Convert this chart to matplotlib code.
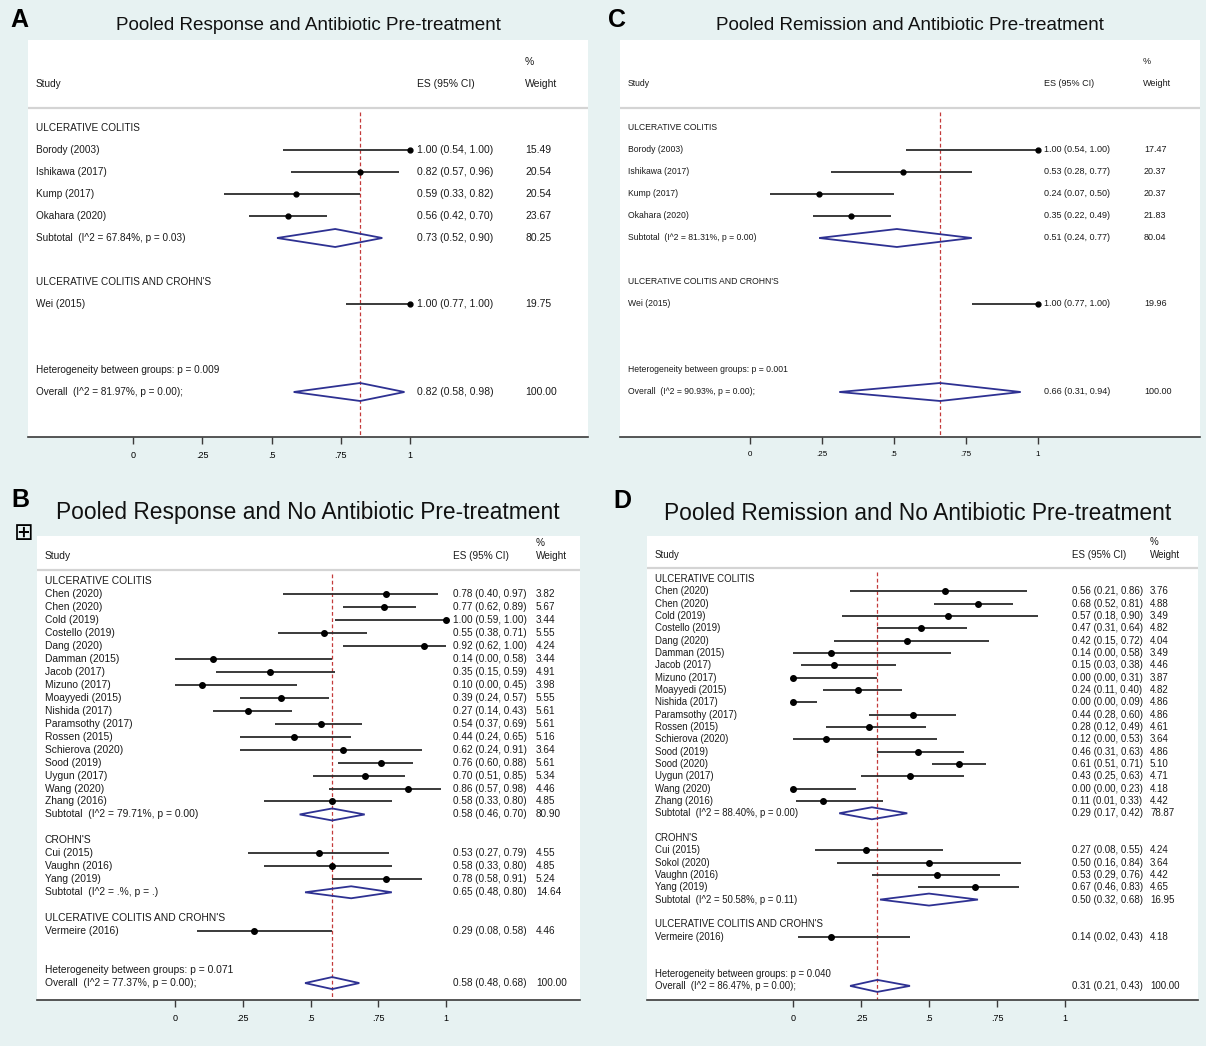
import matplotlib
matplotlib.use('Agg')
import matplotlib.pyplot as plt
from matplotlib.patches import Polygon

plt.rcParams['font.family'] = ['Liberation Sans', 'DejaVu Sans']

### DATA ###
# panel A: pooled response, antibiotic pre-treatment
A_groups = ["ULCERATIVE COLITIS", "ULCERATIVE COLITIS AND CROHN'S"]
A_studies = [["Borody (2003)", "Ishikawa (2017)", "Kump (2017)", "Okahara (2020)"], ["Wei (2015)"]]
A_es = [[1.00, 0.82, 0.59, 0.56], [1.00]]
A_lo = [[0.54, 0.57, 0.33, 0.42], [0.77]]
A_hi = [[1.00, 0.96, 0.82, 0.70], [1.00]]
A_wt = [[15.49, 20.54, 20.54, 23.67], [19.75]]
A_sub = [("Subtotal  (I^2 = 67.84%, p = 0.03)", 0.73, 0.52, 0.90, 80.25), None]
A_het = "Heterogeneity between groups: p = 0.009"
A_overall = ("Overall  (I^2 = 81.97%, p = 0.00);", 0.82, 0.58, 0.98, 100.00)

# panel C: pooled remission, antibiotic pre-treatment
C_groups = ["ULCERATIVE COLITIS", "ULCERATIVE COLITIS AND CROHN'S"]
C_studies = [["Borody (2003)", "Ishikawa (2017)", "Kump (2017)", "Okahara (2020)"], ["Wei (2015)"]]
C_es = [[1.00, 0.53, 0.24, 0.35], [1.00]]
C_lo = [[0.54, 0.28, 0.07, 0.22], [0.77]]
C_hi = [[1.00, 0.77, 0.50, 0.49], [1.00]]
C_wt = [[17.47, 20.37, 20.37, 21.83], [19.96]]
C_sub = [("Subtotal  (I^2 = 81.31%, p = 0.00)", 0.51, 0.24, 0.77, 80.04), None]
C_het = "Heterogeneity between groups: p = 0.001"
C_overall = ("Overall  (I^2 = 90.93%, p = 0.00);", 0.66, 0.31, 0.94, 100.00)

# panel B: pooled response, no antibiotic pre-treatment
B_groups = ["ULCERATIVE COLITIS", "CROHN'S", "ULCERATIVE COLITIS AND CROHN'S"]
B_studies = [["Chen (2020)", "Chen (2020)", "Cold (2019)", "Costello (2019)", "Dang (2020)",
              "Damman (2015)", "Jacob (2017)", "Mizuno (2017)", "Moayyedi (2015)", "Nishida (2017)",
              "Paramsothy (2017)", "Rossen (2015)", "Schierova (2020)", "Sood (2019)", "Uygun (2017)",
              "Wang (2020)", "Zhang (2016)"],
             ["Cui (2015)", "Vaughn (2016)", "Yang (2019)"],
             ["Vermeire (2016)"]]
B_es = [[0.78, 0.77, 1.00, 0.55, 0.92, 0.14, 0.35, 0.10, 0.39, 0.27, 0.54, 0.44, 0.62, 0.76, 0.70, 0.86, 0.58],
        [0.53, 0.58, 0.78], [0.29]]
B_lo = [[0.40, 0.62, 0.59, 0.38, 0.62, 0.00, 0.15, 0.00, 0.24, 0.14, 0.37, 0.24, 0.24, 0.60, 0.51, 0.57, 0.33],
        [0.27, 0.33, 0.58], [0.08]]
B_hi = [[0.97, 0.89, 1.00, 0.71, 1.00, 0.58, 0.59, 0.45, 0.57, 0.43, 0.69, 0.65, 0.91, 0.88, 0.85, 0.98, 0.80],
        [0.79, 0.80, 0.91], [0.58]]
B_wt = [[3.82, 5.67, 3.44, 5.55, 4.24, 3.44, 4.91, 3.98, 5.55, 5.61, 5.61, 5.16, 3.64, 5.61, 5.34, 4.46, 4.85],
        [4.55, 4.85, 5.24], [4.46]]
B_sub = [("Subtotal  (I^2 = 79.71%, p = 0.00)", 0.58, 0.46, 0.70, 80.90),
         ("Subtotal  (I^2 = .%, p = .)", 0.65, 0.48, 0.80, 14.64), None]
B_het = "Heterogeneity between groups: p = 0.071"
B_overall = ("Overall  (I^2 = 77.37%, p = 0.00);", 0.58, 0.48, 0.68, 100.00)

# panel D: pooled remission, no antibiotic pre-treatment
D_groups = ["ULCERATIVE COLITIS", "CROHN'S", "ULCERATIVE COLITIS AND CROHN'S"]
D_studies = [["Chen (2020)", "Chen (2020)", "Cold (2019)", "Costello (2019)", "Dang (2020)",
              "Damman (2015)", "Jacob (2017)", "Mizuno (2017)", "Moayyedi (2015)", "Nishida (2017)",
              "Paramsothy (2017)", "Rossen (2015)", "Schierova (2020)", "Sood (2019)", "Sood (2020)",
              "Uygun (2017)", "Wang (2020)", "Zhang (2016)"],
             ["Cui (2015)", "Sokol (2020)", "Vaughn (2016)", "Yang (2019)"],
             ["Vermeire (2016)"]]
D_es = [[0.56, 0.68, 0.57, 0.47, 0.42, 0.14, 0.15, 0.00, 0.24, 0.00, 0.44, 0.28, 0.12, 0.46, 0.61, 0.43, 0.00, 0.11],
        [0.27, 0.50, 0.53, 0.67], [0.14]]
D_lo = [[0.21, 0.52, 0.18, 0.31, 0.15, 0.00, 0.03, 0.00, 0.11, 0.00, 0.28, 0.12, 0.00, 0.31, 0.51, 0.25, 0.00, 0.01],
        [0.08, 0.16, 0.29, 0.46], [0.02]]
D_hi = [[0.86, 0.81, 0.90, 0.64, 0.72, 0.58, 0.38, 0.31, 0.40, 0.09, 0.60, 0.49, 0.53, 0.63, 0.71, 0.63, 0.23, 0.33],
        [0.55, 0.84, 0.76, 0.83], [0.43]]
D_wt = [[3.76, 4.88, 3.49, 4.82, 4.04, 3.49, 4.46, 3.87, 4.82, 4.86, 4.86, 4.61, 3.64, 4.86, 5.10, 4.71, 4.18, 4.42],
        [4.24, 3.64, 4.42, 4.65], [4.18]]
D_sub = [("Subtotal  (I^2 = 88.40%, p = 0.00)", 0.29, 0.17, 0.42, 78.87),
         ("Subtotal  (I^2 = 50.58%, p = 0.11)", 0.50, 0.32, 0.68, 16.95), None]
D_het = "Heterogeneity between groups: p = 0.040"
D_overall = ("Overall  (I^2 = 86.47%, p = 0.00);", 0.31, 0.21, 0.43, 100.00)

tick_vals = [0, 0.25, 0.5, 0.75, 1]
tick_labels = ['0', '.25', '.5', '.75', '1']

### STYLE ###
W, H = 1206, 1046
BG = '#e7f2f2'
NAVY = '#2e3192'
REDLINE = '#c43a3a'

fig = plt.figure(figsize=(W / 100, H / 100), dpi=100, facecolor=BG)


def fx(x):
	return x / W


def fy(y):
	return 1 - y / H


def es_txt(es, lo, hi):
	return '%.2f (%.2f, %.2f)' % (es, lo, hi)


def draw_panel(lay, letter, title, groups, studies, es, lo, hi, wt, subs, het, overall):
	x0, ytop, x1, yax = lay['white']
	zero, unit = lay['zero'], lay['unit']
	ax = fig.add_axes([fx(x0), fy(yax), (x1 - x0) / W, (yax - ytop) / H])
	ax.set_facecolor('white')
	ax.set_xlim((x0 - zero) / unit, (x1 - zero) / unit)
	ax.set_ylim(yax, ytop)
	for s in ['left', 'right', 'top']:
		ax.spines[s].set_visible(False)
	ax.spines['bottom'].set_color('#3a3a3a')
	ax.spines['bottom'].set_linewidth(1.2)
	ax.set_yticks([])
	ax.set_xticks(tick_vals)
	ax.set_xticklabels(tick_labels)
	ax.tick_params(axis='x', length=5, width=1.0, color='#3a3a3a', labelsize=lay['tick_fs'], pad=5)

	px = lambda p: (p - zero) / unit
	fs = lay['fs']
	tx = dict(fontsize=fs, va='center', color='#1a1a1a')
	nx = dict(fontsize=lay['nfs'], va='center', color='#1a1a1a')

	# header
	ax.text(px(lay['study_x']), lay['head_y'], 'Study', **tx)
	ax.text(px(lay['es_x']), lay['head_y'], 'ES (95% CI)', **nx)
	ax.text(px(lay['wh_x']), lay['head_y'], 'Weight', **nx)
	ax.text(px(lay['wh_x']), lay['pct_y'], '%', **nx)
	ax.axhline(lay['sep_y'], color='#d4d4d4', lw=1.6)

	row = 0
	ry = lambda r: lay['row0'] + r * lay['step']
	dh = lay['dh']

	def diamond(y, e, l, h):
		ax.add_patch(Polygon([(l, y), (e, y - dh), (h, y), (e, y + dh)], closed=True,
							 facecolor='none', edgecolor=NAVY, lw=1.3, zorder=3))

	for g in range(len(groups)):
		ax.text(px(lay['study_x']), ry(row), groups[g], **tx)
		row += 1
		for i in range(len(studies[g])):
			y = ry(row)
			ax.text(px(lay['study_x']), y, studies[g][i], **tx)
			ax.plot([lo[g][i], hi[g][i]], [y, y], color='#2b2b2b', lw=1.3, solid_capstyle='butt', zorder=3)
			ax.plot(es[g][i], y, 'o', color='black', ms=lay['ms'], zorder=4)
			ax.text(px(lay['es_x']), y, es_txt(es[g][i], lo[g][i], hi[g][i]), **nx)
			ax.text(px(lay['wt_x']), y, '%.2f' % wt[g][i], **nx)
			row += 1
		if subs[g] is not None:
			lab, e, l, h, w = subs[g]
			y = ry(row)
			ax.text(px(lay['study_x']), y, lab, **tx)
			diamond(y, e, l, h)
			ax.text(px(lay['es_x']), y, es_txt(e, l, h), **nx)
			ax.text(px(lay['wt_x']), y, '%.2f' % w, **nx)
			row += 1
		row += 1
	row += 1
	ax.text(px(lay['study_x']), ry(row), het, **tx)
	row += 1
	lab, e, l, h, w = overall
	y = ry(row)
	ax.text(px(lay['study_x']), y, lab, **tx)
	diamond(y, e, l, h)
	ax.text(px(lay['es_x']), y, es_txt(e, l, h), **nx)
	ax.text(px(lay['wt_x']), y, '%.2f' % w, **nx)

	ax.vlines(e, lay['sep_y'] + 4, yax, color=REDLINE, lw=0.9, linestyles=(0, (3, 2)), zorder=2)

	fig.text(fx(lay['title'][0]), fy(lay['title'][1]), title, ha='center', va='center',
			 fontsize=lay['title'][2], color='#111111')
	fig.text(fx(lay['letter'][0]), fy(lay['letter'][1]), letter, ha='left', va='center',
			 fontsize=18, fontweight='bold', color='black')


lay_A = dict(white=(28, 40, 588, 437), zero=133, unit=277, row0=128, step=22,
			 study_x=36, es_x=417, wt_x=525, wh_x=525, head_y=84, pct_y=62, sep_y=108,
			 fs=7.2, nfs=7.5, tick_fs=6.5, dh=9, ms=3.5, title=(308, 26, 13.6), letter=(10, 20))
lay_C = dict(white=(620, 40, 1200, 437), zero=750, unit=288, row0=128, step=22,
			 study_x=628, es_x=1044, wt_x=1144, wh_x=1143, head_y=84, pct_y=62, sep_y=108,
			 fs=6.2, nfs=6.5, tick_fs=5.8, dh=9, ms=3.5, title=(910, 26, 13.6), letter=(608, 20))
lay_B = dict(white=(37, 536, 580, 1000), zero=175, unit=271, row0=581, step=12.97,
			 study_x=45, es_x=453, wt_x=536, wh_x=536, head_y=556, pct_y=543, sep_y=570,
			 fs=7.4, nfs=7.2, tick_fs=6.5, dh=6, ms=4, title=(308, 513, 16.4), letter=(11, 500))
lay_D = dict(white=(647, 536, 1198, 1000), zero=793, unit=272, row0=579, step=12.33,
			 study_x=655, es_x=1072, wt_x=1150, wh_x=1150, head_y=555, pct_y=542, sep_y=568,
			 fs=6.9, nfs=7.0, tick_fs=6.5, dh=6, ms=4, title=(918, 513, 16.4), letter=(613, 501))

draw_panel(lay_A, 'A', 'Pooled Response and Antibiotic Pre-treatment',
		   A_groups, A_studies, A_es, A_lo, A_hi, A_wt, A_sub, A_het, A_overall)
draw_panel(lay_C, 'C', 'Pooled Remission and Antibiotic Pre-treatment',
		   C_groups, C_studies, C_es, C_lo, C_hi, C_wt, C_sub, C_het, C_overall)
draw_panel(lay_B, 'B', 'Pooled Response and No Antibiotic Pre-treatment',
		   B_groups, B_studies, B_es, B_lo, B_hi, B_wt, B_sub, B_het, B_overall)
draw_panel(lay_D, 'D', 'Pooled Remission and No Antibiotic Pre-treatment',
		   D_groups, D_studies, D_es, D_lo, D_hi, D_wt, D_sub, D_het, D_overall)

# expand icon next to panel B
fig.text(fx(24), fy(533), '\u229e', ha='center', va='center', fontsize=17,
		 family='DejaVu Sans', color='black')

fig.savefig('out.png', dpi=100, facecolor=BG)
